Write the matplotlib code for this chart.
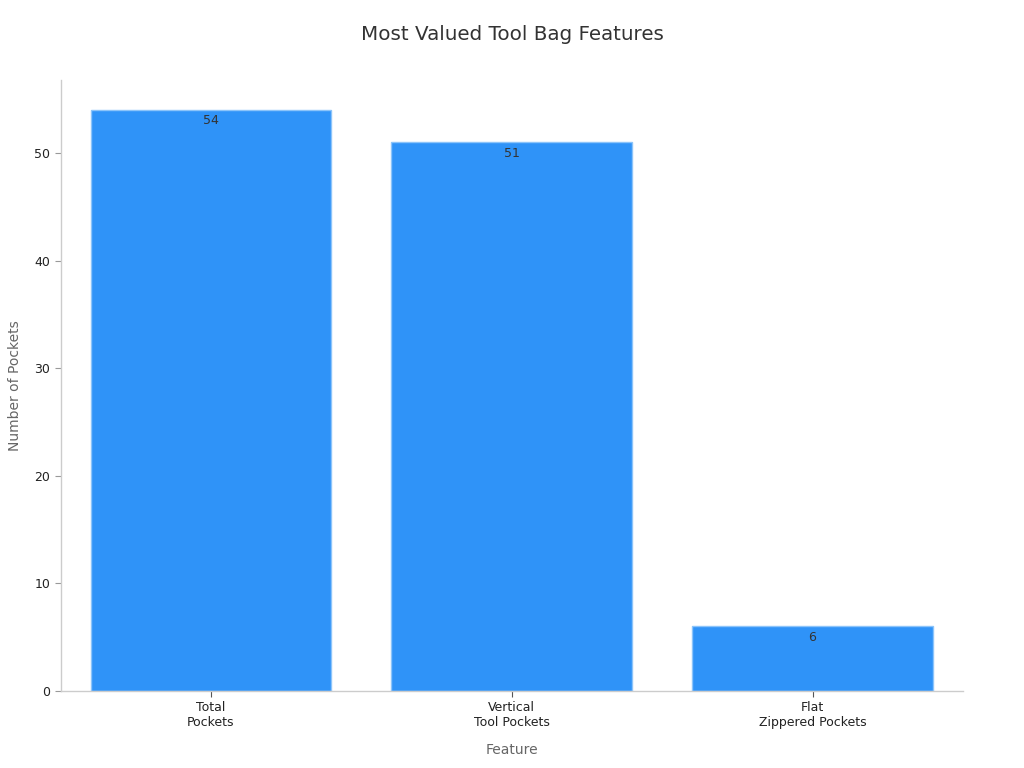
import matplotlib
matplotlib.use('Agg')
import matplotlib.pyplot as plt

# data
features = ['Total\nPockets', 'Vertical\nTool Pockets', 'Flat\nZippered Pockets']
pockets = [54, 51, 6]

fig = plt.figure(figsize=(10.24, 7.68), dpi=100)
ax = fig.add_axes([0.0591, 0.1003, 0.8813, 0.7955])

bars = ax.bar(range(len(features)), pockets, width=0.8, color='#2F93F8',
              edgecolor='#8CC4FA', linewidth=1)

for i, v in enumerate(pockets):
    ax.annotate(str(v), (i, v), xytext=(0, -3), textcoords='offset points',
                ha='center', va='top', fontsize=9, color='#333333')

ax.set_xlim(-0.5, 2.5)
ax.set_ylim(0, 56.8)
ax.set_xticks(range(len(features)))
ax.set_xticklabels(features, fontsize=9, color='#222222')
ax.set_yticks([0, 10, 20, 30, 40, 50])
ax.tick_params(axis='y', labelsize=9, colors='#222222', length=4, color='#999999')
ax.tick_params(axis='x', length=4, color='#555555')

for s in ['top', 'right']:
    ax.spines[s].set_visible(False)
for s in ['left', 'bottom']:
    ax.spines[s].set_color('#cccccc')
    ax.spines[s].set_linewidth(1)

ax.set_xlabel('Feature', fontsize=10, color='#666666', labelpad=10)
ax.set_ylabel('Number of Pockets', fontsize=10, color='#666666', labelpad=9)
fig.suptitle('Most Valued Tool Bag Features', fontsize=14.3, color='#333333', y=0.968)

fig.savefig('out.png', dpi=100)
